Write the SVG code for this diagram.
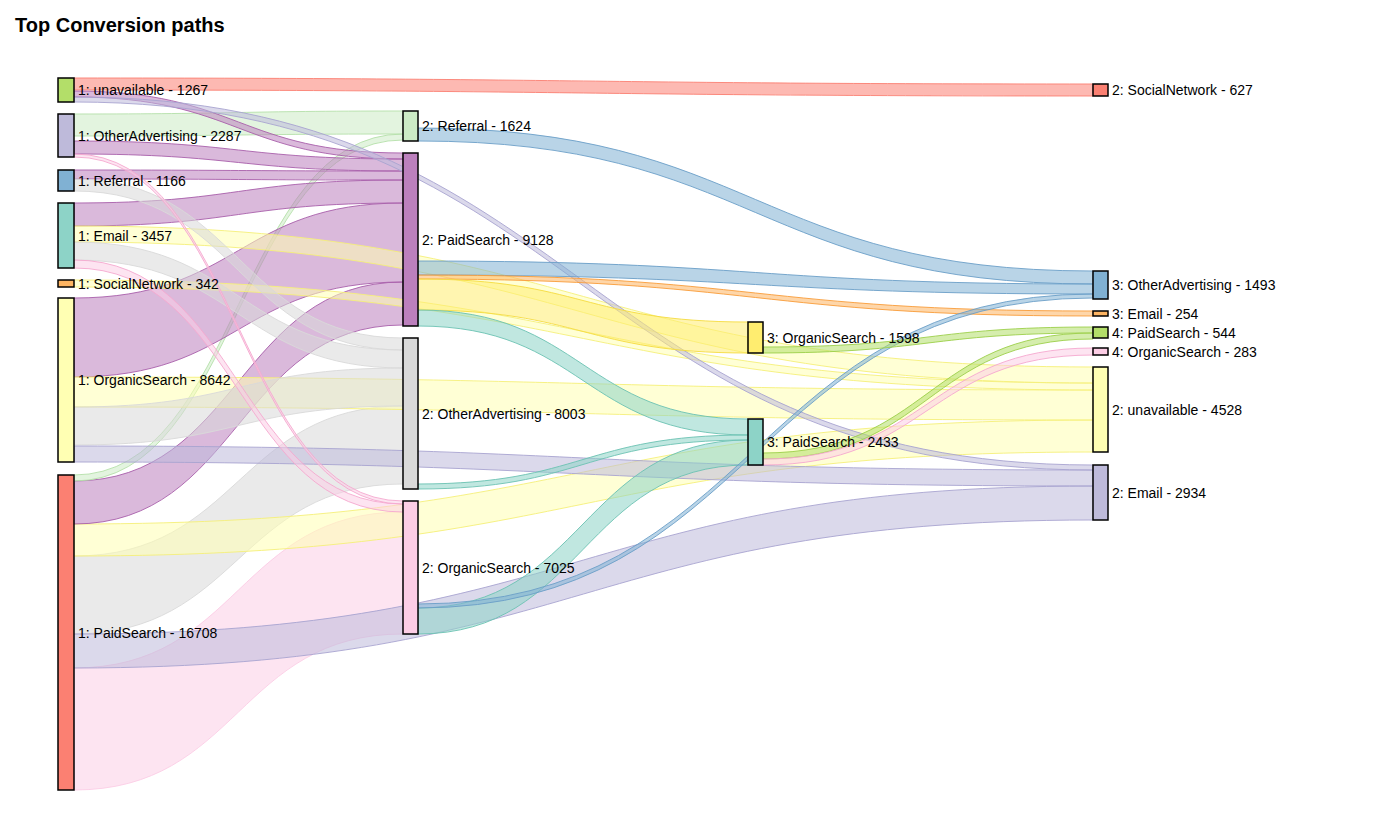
<svg xmlns="http://www.w3.org/2000/svg" width="1400" height="840" viewBox="0 0 1400 840">
<style>
.l{stroke-width:1;fill-opacity:0.55;stroke-opacity:0.9}
.n{stroke:#000;stroke-width:1.5}
text{font-family:"Liberation Sans",Arial,sans-serif;font-size:14px;fill:#000;dominant-baseline:central}
.t{font-size:20px;font-weight:bold;dominant-baseline:auto}
</style>
<rect width="1400" height="840" fill="#fff"/>
<text class="t" x="15" y="32">Top Conversion paths</text>
<g id="links">
<path class="l" fill="#fccde5" stroke="#fccde5" d="M74 668 C238.5 668 238.5 512 403 512 L403 634 C238.5 634 238.5 790 74 790 Z"/>
<path class="l" fill="#d9d9d9" stroke="#d9d9d9" d="M74 556 C238.5 556 238.5 406 403 406 L403 484 C238.5 484 238.5 634 74 634 Z"/>
<path class="l" fill="#ffffb3" stroke="#f5f07a" d="M74 524 C583.5 524 583.5 420 1093 420 L1093 452 C583.5 452 583.5 556 74 556 Z"/>
<path class="l" fill="#bebada" stroke="#a9a4d0" d="M74 634 C583.5 634 583.5 486 1093 486 L1093 520 C583.5 520 583.5 668 74 668 Z"/>
<path class="l" fill="#bc80bd" stroke="#a95fab" d="M74 481 C238.5 481 238.5 282 403 282 L403 325 C238.5 325 238.5 524 74 524 Z"/>
<path class="l" fill="#ccebc5" stroke="#b5e0aa" d="M74 475 C238.5 475 238.5 134 403 134 L403 140 C238.5 140 238.5 481 74 481 Z"/>
<path class="l" fill="#bc80bd" stroke="#a95fab" d="M74 298 C238.5 298 238.5 203 403 203 L403 282 C238.5 282 238.5 377 74 377 Z"/>
<path class="l" fill="#ffffb3" stroke="#f5f07a" d="M74 377 C583.5 377 583.5 390 1093 390 L1093 420 C583.5 420 583.5 407 74 407 Z"/>
<path class="l" fill="#d9d9d9" stroke="#d9d9d9" d="M74 407 C238.5 407 238.5 368 403 368 L403 406 C238.5 406 238.5 445 74 445 Z"/>
<path class="l" fill="#bebada" stroke="#a9a4d0" d="M74 446 C583.5 446 583.5 470 1093 470 L1093 486 C583.5 486 583.5 462 74 462 Z"/>
<path class="l" fill="#ffffb3" stroke="#f5f07a" d="M74 280 C583.5 280 583.5 383 1093 383 L1093 390 C583.5 390 583.5 287 74 287 Z"/>
<path class="l" fill="#bc80bd" stroke="#a95fab" d="M74 203 C238.5 203 238.5 180 403 180 L403 203 C238.5 203 238.5 226 74 226 Z"/>
<path class="l" fill="#ffffb3" stroke="#f5f07a" d="M74 226 C583.5 226 583.5 367 1093 367 L1093 383 C583.5 383 583.5 242 74 242 Z"/>
<path class="l" fill="#d9d9d9" stroke="#d9d9d9" d="M74 242 C238.5 242 238.5 350 403 350 L403 368 C238.5 368 238.5 260 74 260 Z"/>
<path class="l" fill="#fccde5" stroke="#f5a8cf" d="M74 260 C238.5 260 238.5 504 403 504 L403 512 C238.5 512 238.5 268 74 268 Z"/>
<path class="l" fill="#bc80bd" stroke="#a95fab" d="M74 170 C238.5 170 238.5 171 403 171 L403 180 C238.5 180 238.5 179 74 179 Z"/>
<path class="l" fill="#d9d9d9" stroke="#d9d9d9" d="M74 179 C238.5 179 238.5 338 403 338 L403 350 C238.5 350 238.5 191 74 191 Z"/>
<path class="l" fill="#ccebc5" stroke="#b5e0aa" d="M74 114 C238.5 114 238.5 111 403 111 L403 134 C238.5 134 238.5 136 74 136 Z"/>
<path class="l" fill="#bc80bd" stroke="#a95fab" d="M74 141 C238.5 141 238.5 159 403 159 L403 171 C238.5 171 238.5 154 74 154 Z"/>
<path class="l" fill="#fccde5" stroke="#f5a8cf" d="M74 154 C238.5 154 238.5 501 403 501 L403 504 C238.5 504 238.5 157 74 157 Z"/>
<path class="l" fill="#fb8072" stroke="#fb8072" d="M74 78 C583.5 78 583.5 84 1093 84 L1093 96 C583.5 96 583.5 90 74 90 Z"/>
<path class="l" fill="#bc80bd" stroke="#a95fab" d="M74 91 C238.5 91 238.5 153 403 153 L403 159 C238.5 159 238.5 97 74 97 Z"/>
<path class="l" fill="#bebada" stroke="#a9a4d0" d="M74 97 C583.5 97 583.5 465 1093 465 L1093 470 C583.5 470 583.5 102 74 102 Z"/>
<path class="l" fill="#80b1d3" stroke="#6a9fc8" d="M418 128 C755.5 128 755.5 271 1093 271 L1093 284 C755.5 284 755.5 141 418 141 Z"/>
<path class="l" fill="#80b1d3" stroke="#6a9fc8" d="M418 261 C755.5 261 755.5 284 1093 284 L1093 294 C755.5 294 755.5 275 418 275 Z"/>
<path class="l" fill="#fdb462" stroke="#f89c3a" d="M418 275 C755.5 275 755.5 311 1093 311 L1093 316 C755.5 316 755.5 279 418 279 Z"/>
<path class="l" fill="#ffed6f" stroke="#f5dc40" d="M418 279 C583 279 583 322 748 322 L748 353 C583 353 583 310 418 310 Z"/>
<path class="l" fill="#8dd3c7" stroke="#6cc2b3" d="M418 310 C583 310 583 419 748 419 L748 435 C583 435 583 326 418 326 Z"/>
<path class="l" fill="#8dd3c7" stroke="#6cc2b3" d="M418 484 C583 484 583 435 748 435 L748 440 C583 440 583 489 418 489 Z"/>
<path class="l" fill="#8dd3c7" stroke="#6cc2b3" d="M418 608 C583 608 583 440 748 440 L748 465 C583 465 583 634 418 634 Z"/>
<path class="l" fill="#80b1d3" stroke="#6a9fc8" d="M418 604 C755.5 604 755.5 294 1093 294 L1093 298 C755.5 298 755.5 608 418 608 Z"/>
<path class="l" fill="#b3de69" stroke="#9ccf4a" d="M763 347 C928 347 928 327 1093 327 L1093 333 C928 333 928 353 763 353 Z"/>
<path class="l" fill="#b3de69" stroke="#9ccf4a" d="M763 453 C928 453 928 333 1093 333 L1093 339 C928 339 928 459 763 459 Z"/>
<path class="l" fill="#fccde5" stroke="#f5a8cf" d="M763 459 C928 459 928 348 1093 348 L1093 355 C928 355 928 465 763 465 Z"/>
</g>
<g id="n1u"><rect class="n" x="58" y="78" width="16" height="24" fill="#b3de69"/><text x="78" y="90">1: unavailable - 1267</text></g>
<g id="n1oa"><rect class="n" x="58" y="114" width="16" height="43" fill="#bebada"/><text x="78" y="135.5">1: OtherAdvertising - 2287</text></g>
<g id="n1r"><rect class="n" x="58" y="170" width="16" height="21" fill="#80b1d3"/><text x="78" y="180.5">1: Referral - 1166</text></g>
<g id="n1e"><rect class="n" x="58" y="203" width="16" height="65" fill="#8dd3c7"/><text x="78" y="235.5">1: Email - 3457</text></g>
<g id="n1s"><rect class="n" x="58" y="280" width="16" height="7" fill="#fdb462"/><text x="78" y="283.5">1: SocialNetwork - 342</text></g>
<g id="n1o"><rect class="n" x="58" y="298" width="16" height="164" fill="#ffffb3"/><text x="78" y="380">1: OrganicSearch - 8642</text></g>
<g id="n1p"><rect class="n" x="58" y="475" width="16" height="315" fill="#fb8072"/><text x="78" y="632.5">1: PaidSearch - 16708</text></g>
<g id="n2r"><rect class="n" x="403" y="111" width="15" height="30" fill="#ccebc5"/><text x="422" y="126">2: Referral - 1624</text></g>
<g id="n2p"><rect class="n" x="403" y="153" width="15" height="173" fill="#bc80bd"/><text x="422" y="239.5">2: PaidSearch - 9128</text></g>
<g id="n2oa"><rect class="n" x="403" y="338" width="15" height="151" fill="#d9d9d9"/><text x="422" y="413.5">2: OtherAdvertising - 8003</text></g>
<g id="n2o"><rect class="n" x="403" y="501" width="15" height="133" fill="#fccde5"/><text x="422" y="567.5">2: OrganicSearch - 7025</text></g>
<g id="n3o"><rect class="n" x="748" y="322" width="15" height="31" fill="#ffed6f"/><text x="767" y="337.5">3: OrganicSearch - 1598</text></g>
<g id="n3p"><rect class="n" x="748" y="419" width="15" height="46" fill="#8dd3c7"/><text x="767" y="442">3: PaidSearch - 2433</text></g>
<g id="n4sn"><rect class="n" x="1093" y="84" width="15" height="12" fill="#fb8072"/><text x="1112" y="90">2: SocialNetwork - 627</text></g>
<g id="n4oa"><rect class="n" x="1093" y="271" width="15" height="28" fill="#80b1d3"/><text x="1112" y="285">3: OtherAdvertising - 1493</text></g>
<g id="n4e3"><rect class="n" x="1093" y="311" width="15" height="5" fill="#fdb462"/><text x="1112" y="313.5">3: Email - 254</text></g>
<g id="n4p"><rect class="n" x="1093" y="327" width="15" height="11" fill="#b3de69"/><text x="1112" y="332.5">4: PaidSearch - 544</text></g>
<g id="n4o"><rect class="n" x="1093" y="348" width="15" height="7" fill="#fccde5"/><text x="1112" y="352">4: OrganicSearch - 283</text></g>
<g id="n4u"><rect class="n" x="1093" y="367" width="15" height="85" fill="#ffffb3"/><text x="1112" y="409.5">2: unavailable - 4528</text></g>
<g id="n4e2"><rect class="n" x="1093" y="465" width="15" height="55" fill="#bebada"/><text x="1112" y="492.5">2: Email - 2934</text></g>
</svg>
